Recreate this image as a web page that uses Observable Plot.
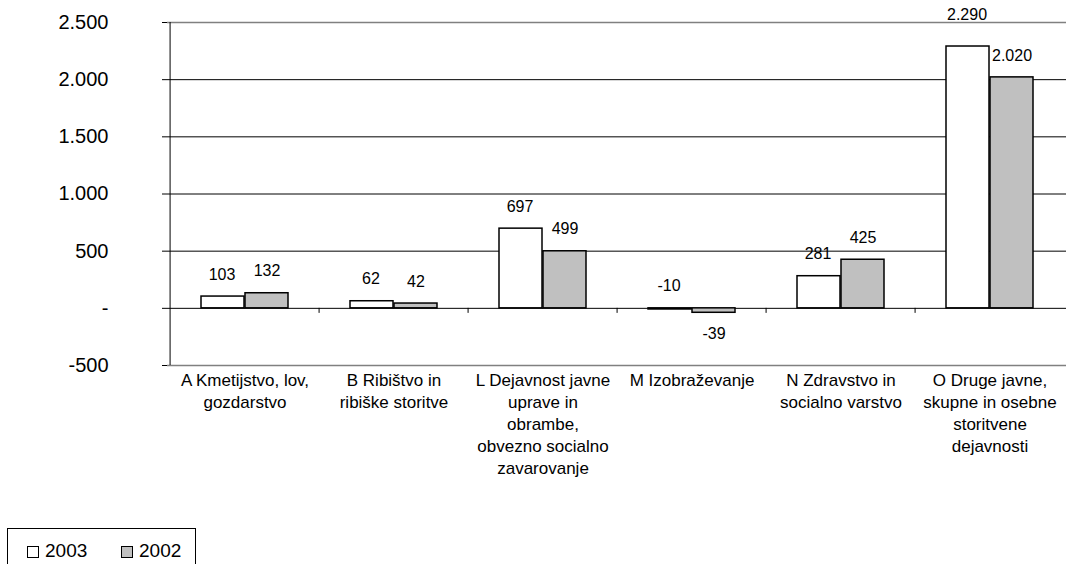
<!DOCTYPE html>
<html>
<head>
<meta charset="utf-8">
<script src="https://cdn.jsdelivr.net/npm/d3@7"></script>
<script src="https://cdn.jsdelivr.net/npm/@observablehq/plot@0.6"></script>
<style>
  html, body { margin: 0; padding: 0; background: #fff; }
  body { width: 1066px; height: 564px; position: relative; overflow: hidden; font-family: "Liberation Sans", Arial, sans-serif; }
  #chart { position: absolute; left: 0; top: 0; }
  #legend { position: absolute; left: 7px; top: 528px; width: 187px; height: 60px; border: 1px solid #000; font-size: 19px; color: #000; }
  .item { position: absolute; top: 11px; display: flex; align-items: center; }
  .sw { width: 10px; height: 10px; border: 1px solid #000; margin-right: 6px; margin-top: 2px; }
</style>
</head>
<body>
<div id="chart"></div>
<div id="legend">
  <div class="item" style="left:19px"><span class="sw" style="background:#fff"></span>2003</div>
  <div class="item" style="left:113px"><span class="sw" style="background:#c0c0c0"></span>2002</div>
</div>
<script>
const categories = ["A", "B", "L", "M", "N", "O"];
const categoryLabels = [
  "A Kmetijstvo, lov,\ngozdarstvo",
  "B Ribištvo in\nribiške storitve",
  "L Dejavnost javne\nuprave in\nobrambe,\nobvezno socialno\nzavarovanje",
  "M Izobraževanje",
  "N Zdravstvo in\nsocialno varstvo",
  "O Druge javne,\nskupne in osebne\nstoritvene\ndejavnosti"
];
const values2003 = [103, 62, 697, -10, 281, 2290];
const values2002 = [132, 42, 499, -39, 425, 2020];
const yTicks = [-500, 0, 500, 1000, 1500, 2000, 2500];

const loc = d3.formatLocale({decimal: ",", thousands: ".", grouping: [3], minus: "-"});
const fmt = loc.format(",d");

const d2003 = categories.map((c, i) => ({cat: c, v: values2003[i]}));
const d2002 = categories.map((c, i) => ({cat: c, v: values2002[i]}));

const W = 1066, ML = 167, MR = 0;
const bw = (W - ML - MR) / categories.length;
const half = bw / 2;

const labelMap = new Map(categories.map((c, i) => [c, categoryLabels[i]]));

const chart = Plot.plot({
  width: W,
  height: 520,
  marginLeft: ML,
  marginRight: MR,
  marginTop: 22,
  marginBottom: 155,
  style: {fontFamily: "Liberation Sans, Arial, sans-serif", background: "#fff", color: "#000"},
  x: {domain: categories, padding: 0, axis: null},
  y: {domain: [-500, 2500], axis: null},
  marks: [
    Plot.ruleY([0, 500, 1000, 1500, 2000], {stroke: "#000", strokeWidth: 1}),
    Plot.ruleY([2500, -500], {stroke: "#808080", strokeWidth: 1.5}),
    Plot.ruleX([categories[0]], {x: d => d, y1: -500, y2: 2500, dx: -half, stroke: "#000", strokeWidth: 1}),
    Plot.ruleX(categories.slice(1), {x: d => d, y1: 0, y2: -44, dx: -half, stroke: "#000", strokeWidth: 1}),
    Plot.axisY({ticks: yTicks, tickSize: 5, tickPadding: 54, fontSize: 20, label: null,
      tickFormat: d => d === 0 ? "-" : fmt(d), stroke: "#000"}),
    Plot.axisX({anchor: "bottom", tickSize: 0, tickPadding: 5, fontSize: 17, lineHeight: 1.29,
      tickFormat: d => labelMap.get(d), label: null}),
    Plot.barY(d2003, {x: "cat", y: "v", fill: "#fff", stroke: "#000", strokeWidth: 1.5, insetLeft: 31, insetRight: 75}),
    Plot.barY(d2002, {x: "cat", y: "v", fill: "#c0c0c0", stroke: "#000", strokeWidth: 1.5, insetLeft: 75, insetRight: 31}),
    Plot.text(d2003.filter(d => d.v > -20 && d.v < 2200), {x: "cat", y: d => Math.max(d.v, 0), text: d => fmt(d.v), dx: -23, dy: -22, fontSize: 16}),
    Plot.text(d2003.filter(d => d.v >= 2200), {x: "cat", y: "v", text: d => fmt(d.v), dx: -23, dy: -32, fontSize: 16}),
    Plot.text(d2002.filter(d => d.v > -20), {x: "cat", y: "v", text: d => fmt(d.v), dx: 22, dy: -22, fontSize: 16}),
    Plot.text(d2002.filter(d => d.v <= -20), {x: "cat", y: "v", text: d => fmt(d.v), dx: 22, dy: 21, fontSize: 16})
  ]
});
document.getElementById("chart").appendChild(chart);
</script>
</body>
</html>
